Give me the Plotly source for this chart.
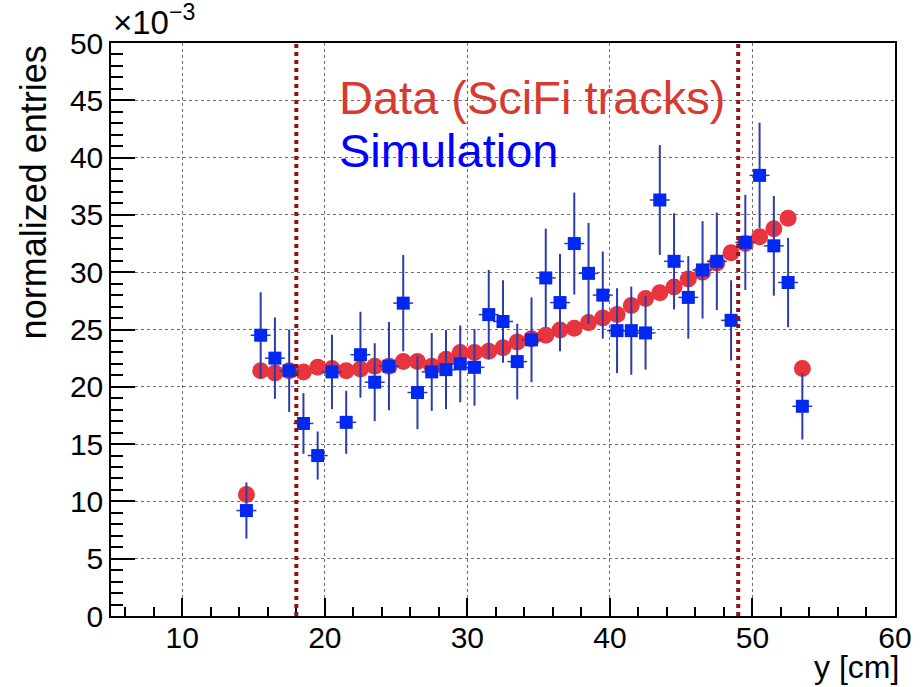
import plotly.graph_objects as go

# bin centres (y position in cm)
y_bins = [14.5, 15.5, 16.5, 17.5, 18.5, 19.5, 20.5, 21.5, 22.5, 23.5,
          24.5, 25.5, 26.5, 27.5, 28.5, 29.5, 30.5, 31.5, 32.5, 33.5,
          34.5, 35.5, 36.5, 37.5, 38.5, 39.5, 40.5, 41.5, 42.5, 43.5,
          44.5, 45.5, 46.5, 47.5, 48.5, 49.5, 50.5, 51.5, 52.5, 53.5]

# normalized entries (x 10^-3)
data_vals = [10.6, 21.4, 21.2, 21.4, 21.3, 21.7, 21.6, 21.4, 21.55, 21.8,
             21.8, 22.2, 22.2, 21.8, 22.4, 23.0, 23.0, 23.1, 23.4, 23.9,
             24.2, 24.5, 24.95, 25.1, 25.6, 26.0, 26.3, 27.1, 27.7, 28.2,
             28.7, 29.4, 30.0, 30.8, 31.7, 32.5, 33.1, 33.8, 34.7, 21.6]

sim_vals = [9.2, 24.5, 22.5, 21.4, 16.8, 14.0, 21.3, 16.9, 22.8, 20.4,
            21.8, 27.3, 19.5, 21.3, 21.5, 22.0, 21.7, 26.3, 25.7, 22.2,
            24.1, 29.5, 27.35, 32.5, 29.9, 28.0, 24.9, 24.9, 24.7, 36.3,
            30.95, 27.8, 30.2, 30.95, 25.8, 32.6, 38.45, 32.3, 29.1, 18.3]

sim_errs = [2.45, 3.75, 3.55, 3.6, 2.65, 2.1, 3.25, 2.75, 3.75, 3.4,
            3.85, 4.2, 3.2, 3.4, 3.45, 3.35, 3.35, 3.9, 3.6, 3.3,
            3.7, 4.3, 4.25, 4.45, 4.4, 3.8, 3.7, 3.85, 3.2, 4.8,
            4.2, 3.6, 4.25, 4.25, 3.5, 4.15, 4.6, 4.35, 3.9, 2.9]

cut_positions = [18, 49]

x_range = [5, 60]
y_range = [0, 50]

FONT = "Liberation Sans, Arial, Helvetica, sans-serif"
RED = "rgb(232,52,62)"
BLUE = "rgb(0,40,240)"
ERR_BLUE = "rgb(45,60,170)"
CUT = "rgb(140,22,22)"

fig = go.Figure()

fig.add_trace(go.Scatter(
    x=y_bins, y=data_vals, mode="markers", name="Data (SciFi tracks)",
    marker=dict(symbol="circle", size=17, color=RED, line=dict(width=0)),
    showlegend=False,
))

fig.add_trace(go.Scatter(
    x=y_bins, y=sim_vals, mode="markers", name="Simulation",
    marker=dict(symbol="square", size=13, color=BLUE, line=dict(width=0)),
    error_y=dict(type="data", array=sim_errs, visible=True, color=ERR_BLUE,
                 thickness=2, width=0),
    error_x=dict(type="constant", value=0.7, visible=True, color=ERR_BLUE,
                 thickness=1.5, width=0),
    showlegend=False,
))

for c in cut_positions:
    fig.add_shape(type="line", xref="x", yref="paper", x0=c, x1=c, y0=0, y1=1,
                  line=dict(color=CUT, width=4, dash="dot"), layer="above")

axis_common = dict(
    showline=True, linecolor="black", linewidth=1.5, mirror=True,
    ticks="inside", tickcolor="black", tickwidth=1.5,
    showgrid=True, gridcolor="rgb(110,110,110)", gridwidth=1, griddash="dot",
    zeroline=False,
    tickfont=dict(family=FONT, size=30, color="black"),
)

fig.update_layout(
    width=924, height=687,
    margin=dict(l=111, r=25, t=43, b=71),
    paper_bgcolor="white", plot_bgcolor="white",
    font=dict(family=FONT, color="black"),
    xaxis=dict(range=x_range, dtick=10, tick0=0, ticklen=18,
               ticklabelstandoff=-6,
               minor=dict(ticks="inside", dtick=2, tick0=0, ticklen=9,
                          tickcolor="black", tickwidth=1.5, showgrid=False),
               **axis_common),
    yaxis=dict(range=y_range, dtick=5, tick0=0, ticklen=24,
               minor=dict(ticks="inside", dtick=1, tick0=0, ticklen=12,
                          tickcolor="black", tickwidth=1.5, showgrid=False),
               **axis_common),
    annotations=[
        dict(text="×10<sup>−3</sup>", xref="paper", yref="paper", x=0.0, y=1.0,
             xanchor="left", yanchor="bottom", showarrow=False,
             font=dict(family=FONT, size=33, color="black")),
        dict(text="normalized entries", xref="paper", yref="paper", x=-0.099, y=1.0,
             xanchor="center", yanchor="top", textangle=-90, showarrow=False,
             font=dict(family=FONT, size=36, color="black")),
        dict(text="y [cm]", xref="paper", yref="paper", x=1.008, y=-0.1239,
             xanchor="right", yanchor="bottom", showarrow=False,
             font=dict(family=FONT, size=32, color="black")),
        dict(text="Data (SciFi tracks)", xref="paper", yref="paper", x=0.288, y=0.905,
             xanchor="left", yanchor="middle", showarrow=False,
             font=dict(family=FONT, size=47, color="rgb(214,58,48)")),
        dict(text="Simulation", xref="paper", yref="paper", x=0.288, y=0.812,
             xanchor="left", yanchor="middle", showarrow=False,
             font=dict(family=FONT, size=47, color="rgb(0,0,255)")),
    ],
)

fig.write_html("out.html")
